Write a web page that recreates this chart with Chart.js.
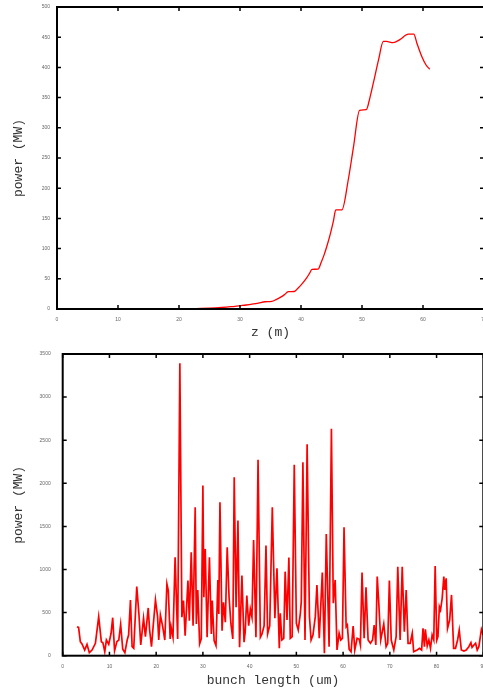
<!DOCTYPE html>
<html>
<head>
<meta charset="utf-8">
<script src="https://cdn.jsdelivr.net/npm/chart.js@4"></script>
<style>
  html, body { margin: 0; padding: 0; background: #fff; overflow: hidden; width: 483px; height: 688px; }
  canvas { position: absolute; left: 0; }
  #chartZ { top: 0; }
  #chartBunch { top: 344px; }
</style>
</head>
<body>
<canvas id="chartZ" width="490" height="344"></canvas>
<canvas id="chartBunch" width="490" height="344"></canvas>
<script>
// power along the undulator
const zPos = [0, 5, 10, 15, 20, 22, 25, 27, 28.5, 30, 31, 32.2, 33, 34.1, 35.2, 36, 36.6, 37.3, 37.9, 38.9, 39.5, 40.2, 40.9, 41.4, 41.8, 42.8, 43.3, 43.8, 44.3, 44.8, 45.3, 45.7, 46.7, 47.75, 48.6, 49.6, 50.7, 51.3, 51.9, 52.7, 53.5, 54.0, 55.1, 56.2, 57.6, 58.5, 59.0, 59.8, 60.5, 61.1];
const powerZ = [0, 0, 0, 0, 0, 0.3, 1.3, 2.5, 3.8, 5.5, 6.6, 8.4, 9.8, 12, 12.5, 16, 19.2, 23.8, 28.6, 29, 34.4, 42, 51, 59, 65.7, 66, 77, 90, 106, 124, 145, 164, 164, 214, 268, 329, 330, 350, 376, 412, 443, 443, 441, 446, 455, 455, 440, 418, 404, 397];
const zTicks = [0, 10, 20, 30, 40, 50, 60, 70];
const powerZTicks = [0, 50, 100, 150, 200, 250, 300, 350, 400, 450, 500];

// power along the bunch
const bunchLen = [3.06, 3.4, 3.77, 4.13, 4.7, 5.2, 5.7, 6.28, 7.0, 7.7, 8.27, 8.6, 9.0, 9.35, 9.85, 10.35, 10.7, 11.1, 11.6, 12.0, 12.4, 12.85, 13.3, 13.8, 14.1, 14.5, 14.85, 15.2, 15.85, 16.3, 16.7, 17.3, 17.7, 18.3, 18.6, 19.0, 19.35, 19.85, 20.3, 20.55, 20.9, 21.4, 21.85, 22.3, 22.6, 23.0, 23.2, 23.6, 24.05, 24.6, 25.07, 25.5, 25.85, 26.2, 26.8, 27.1, 27.5, 27.9, 28.35, 28.6, 28.9, 29.3, 29.65, 30.0, 30.2, 30.5, 30.9, 31.4, 31.8, 32.0, 32.4, 32.8, 33.2, 33.4, 33.65, 34.1, 34.4, 34.8, 35.2, 35.6, 36.0, 36.4, 36.7, 37.1, 37.5, 37.85, 38.35, 38.8, 39.05, 39.4, 39.8, 40.15, 40.5, 40.85, 41.35, 41.8, 42.3, 42.65, 43.1, 43.5, 43.85, 44.3, 44.85, 45.4, 45.85, 46.35, 46.55, 46.9, 47.3, 47.6, 48.0, 48.4, 48.7, 49.1, 49.55, 50.0, 50.4, 50.85, 51.05, 51.4, 51.85, 52.3, 52.8, 53.15, 53.55, 54.05, 54.4, 54.9, 55.55, 56.0, 56.4, 57.0, 57.5, 57.9, 58.3, 58.7, 59.15, 59.5, 59.85, 60.2, 60.65, 60.9, 61.3, 61.7, 62.15, 62.5, 63.0, 63.45, 63.7, 64.05, 64.5, 64.9, 65.35, 65.85, 66.3, 66.65, 67.0, 67.3, 67.6, 68.05, 68.7, 69.2, 69.55, 69.9, 70.3, 70.85, 71.35, 71.7, 72.2, 72.65, 73.1, 73.5, 73.9, 74.35, 74.8, 75.1, 75.85, 76.35, 76.8, 77.1, 77.4, 77.6, 78.0, 78.35, 78.7, 79.05, 79.4, 79.7, 80.05, 80.3, 80.6, 80.85, 81.2, 81.55, 81.75, 82.05, 82.35, 82.8, 83.2, 83.65, 84.05, 84.5, 84.85, 85.3, 85.85, 86.35, 86.9, 87.35, 87.6, 88.0, 88.35, 88.7, 89.05, 89.6, 90.0];
const powerBunch = [337, 328, 163, 136, 66, 132, 35, 66, 144, 453, 163, 151, 46, 182, 132, 260, 441, 58, 163, 182, 364, 74, 35, 182, 240, 647, 104, 86, 801, 492, 124, 434, 221, 554, 298, 104, 337, 647, 453, 182, 472, 337, 182, 832, 755, 194, 330, 214, 1142, 194, 3394, 446, 639, 232, 871, 406, 1200, 348, 1723, 368, 763, 136, 194, 1974, 678, 1239, 214, 1142, 252, 639, 174, 116, 879, 484, 1781, 290, 620, 388, 1258, 678, 368, 194, 2071, 562, 1567, 97, 929, 156, 272, 697, 348, 542, 446, 1343, 214, 2272, 214, 252, 348, 1277, 252, 348, 1723, 434, 1015, 86, 492, 182, 202, 975, 414, 1138, 202, 221, 2214, 376, 298, 492, 627, 2245, 182, 2454, 453, 182, 240, 453, 821, 202, 964, 28, 1413, 104, 2632, 608, 879, 66, 260, 182, 202, 1491, 337, 356, 74, 46, 345, 66, 202, 190, 124, 964, 202, 794, 182, 144, 182, 356, 124, 918, 647, 182, 368, 104, 144, 871, 182, 66, 221, 1033, 182, 1033, 279, 763, 144, 144, 260, 46, 66, 86, 66, 318, 104, 306, 113, 182, 86, 240, 182, 1041, 182, 221, 569, 530, 666, 918, 763, 898, 318, 414, 705, 86, 86, 182, 298, 66, 54, 66, 104, 151, 97, 124, 144, 66, 104, 306, 240];
const bunchTicks = [0, 10, 20, 30, 40, 50, 60, 70, 80, 90];
const powerBunchTicks = [0, 500, 1000, 1500, 2000, 2500, 3000, 3500];

const tickFont = { family: 'Liberation Sans', size: 5 };
const titleFont = { family: 'Liberation Mono', size: 13 };

// gnuplot style box with ticks pointing inwards on all four sides
const frame = {
    id: 'frame',
    afterDatasetsDraw(chart) {
        const { ctx, chartArea: a, scales: { x, y } } = chart;
        ctx.save();
        ctx.strokeStyle = '#000';
        ctx.lineWidth = 1.5;
        ctx.beginPath();
        x.ticks.forEach(t => {
            const px = x.getPixelForValue(t.value);
            ctx.moveTo(px, a.bottom); ctx.lineTo(px, a.bottom - 4);
            ctx.moveTo(px, a.top); ctx.lineTo(px, a.top + 4);
        });
        y.ticks.forEach(t => {
            const py = y.getPixelForValue(t.value);
            ctx.moveTo(a.left, py); ctx.lineTo(a.left + 4, py);
            ctx.moveTo(a.right, py); ctx.lineTo(a.right - 4, py);
        });
        ctx.stroke();
        ctx.lineWidth = 2;
        ctx.strokeRect(a.left, a.top, a.width, a.height);
        ctx.restore();
    }
};

const makeChart = (el, xs, ys, xTicks, yTicks, cfg) => new Chart(document.getElementById(el), {
    type: 'line',
    data: {
        datasets: [{
            data: xs.map((v, i) => ({ x: v, y: ys[i] })),
            borderColor: '#ff0000',
            borderWidth: cfg.lineWidth,
            pointRadius: 0,
            tension: 0,
            cubicInterpolationMode: cfg.mono ? 'monotone' : 'default',
            fill: false
        }]
    },
    options: {
        responsive: false,
        animation: false,
        layout: { padding: cfg.pad },
        plugins: { legend: { display: false }, tooltip: { enabled: false } },
        scales: {
            x: {
                type: 'linear',
                min: xTicks[0],
                max: xTicks[xTicks.length - 1],
                afterBuildTicks: s => { s.ticks = xTicks.map(v => ({ value: v })); },
                ticks: { color: '#666', font: tickFont, padding: cfg.xPad, maxRotation: 0, autoSkip: false, callback: v => String(v) },
                grid: { display: false, drawTicks: false },
                border: { display: false },
                title: { display: true, text: cfg.xTitle, color: '#333', font: titleFont, padding: { top: 0, bottom: cfg.xTitlePad } },
                afterFit: s => { s.height = cfg.xHeight; s.paddingLeft = 0; s.paddingRight = 0; }
            },
            y: {
                type: 'linear',
                min: yTicks[0],
                max: yTicks[yTicks.length - 1],
                afterBuildTicks: s => { s.ticks = yTicks.map(v => ({ value: v })); },
                ticks: { color: '#666', font: tickFont, padding: cfg.yPad, autoSkip: false, callback: v => String(v) },
                grid: { display: false, drawTicks: false },
                border: { display: false },
                title: { display: true, text: 'power (MW)', color: '#333', font: titleFont, padding: { top: 11, bottom: 0 } },
                afterFit: s => { s.width = cfg.yWidth; s.paddingTop = 0; s.paddingBottom = 0; }
            }
        }
    },
    plugins: [frame]
});

makeChart('chartZ', zPos, powerZ, zTicks, powerZTicks, {
    lineWidth: 1.3, mono: true,
    pad: { left: 0, top: 7, right: 6, bottom: 0 },
    xTitle: 'z (m)', xTitlePad: 4, xHeight: 35, xPad: 8,
    yWidth: 57, yPad: 7
});

makeChart('chartBunch', bunchLen, powerBunch, bunchTicks, powerBunchTicks, {
    lineWidth: 1.7, mono: false,
    pad: { left: 0, top: 10, right: 6.7, bottom: 0 },
    xTitle: 'bunch length (um)', xTitlePad: 0, xHeight: 32.3, xPad: 8,
    yWidth: 62.7, yPad: 12
});
</script>
</body>
</html>
